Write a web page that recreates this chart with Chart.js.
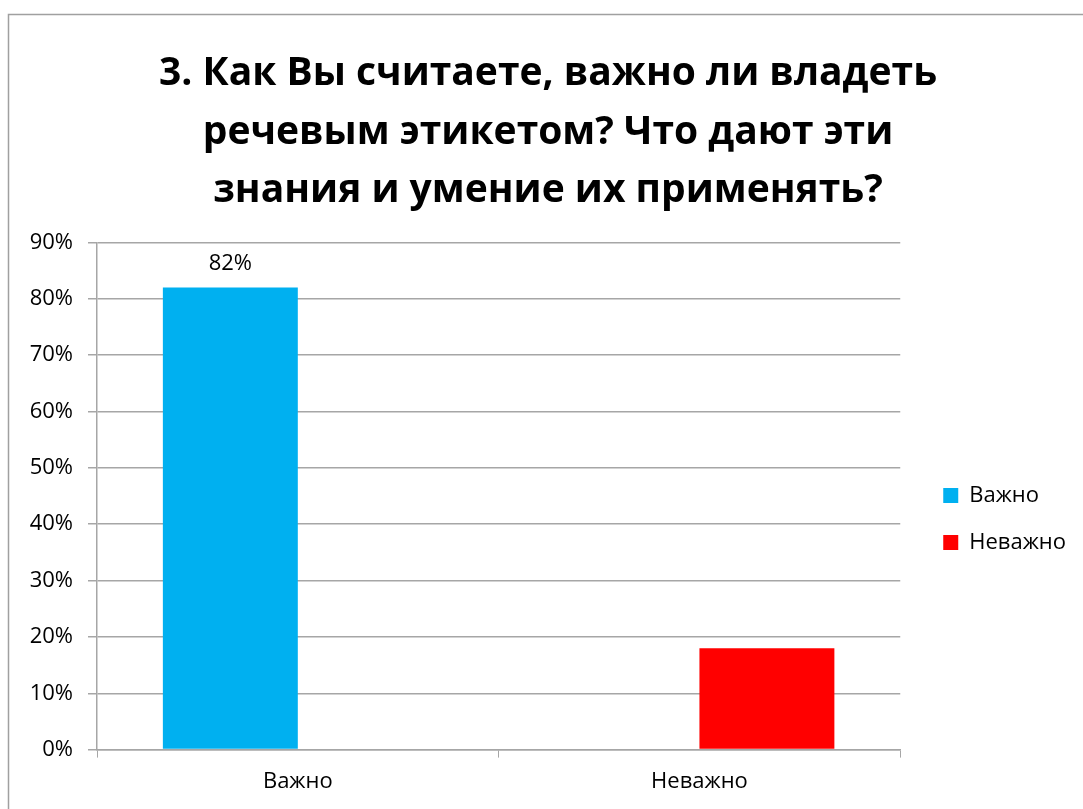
<!DOCTYPE html>
<html>
<head>
<meta charset="utf-8">
<script src="https://cdn.jsdelivr.net/npm/chart.js@4.4.0/dist/chart.umd.min.js"></script>
<style>
  html, body { margin: 0; padding: 0; background: #fff; }
  #wrap { width: 1083px; height: 809px; position: relative; }
</style>
</head>
<body>
<div id="wrap"><canvas id="grafica" width="1083" height="809"></canvas></div>
<script>
// Datos del gráfico
const categorias = ['Важно', 'Неважно'];
const valoresVazhno = [0.82, null];
const valoresNevazhno = [null, 0.18];
const etiquetasDatos = ['82%', null];
const tituloLineas = ['3. Как Вы считаете, важно ли владеть', 'речевым этикетом? Что дают эти', 'знания и умение их применять?'];

const fuente = '"Open Sans", Lato, sans-serif';
const gris = '#a6a6a6';
const tam = 22;

// marco exterior
const marco = {
  id: 'marco',
  beforeDraw(chart) {
    const ctx = chart.ctx;
    ctx.save();
    ctx.fillStyle = '#fff';
    ctx.fillRect(0, 0, chart.width, chart.height);
    ctx.strokeStyle = '#a0a0a0';
    ctx.lineWidth = 1.5;
    ctx.strokeRect(8.5, 14.5, 1100, 900);
    ctx.restore();
  }
};

// etiqueta de datos solo para la primera serie
const etiquetas = {
  id: 'etiquetas',
  afterDatasetsDraw(chart) {
    const ctx = chart.ctx;
    const meta = chart.getDatasetMeta(0);
    ctx.save();
    ctx.font = tam + 'px ' + fuente;
    ctx.fillStyle = '#000';
    ctx.textAlign = 'center';
    ctx.textBaseline = 'middle';
    meta.data.forEach((bar, i) => {
      if (etiquetasDatos[i]) ctx.fillText(etiquetasDatos[i], bar.x, bar.y - 24);
    });
    ctx.restore();
  }
};

new Chart(document.getElementById('grafica'), {
  type: 'bar',
  data: {
    labels: categorias,
    datasets: [
      { label: 'Важно', data: valoresVazhno, backgroundColor: '#00b0f0', barPercentage: 1, categoryPercentage: 0.672 },
      { label: 'Неважно', data: valoresNevazhno, backgroundColor: '#ff0000', barPercentage: 1, categoryPercentage: 0.672 }
    ]
  },
  plugins: [marco, etiquetas],
  options: {
    responsive: false,
    animation: false,
    layout: { padding: { left: 20, right: 7, top: 45, bottom: 3 } },
    plugins: {
      title: {
        display: true,
        text: tituloLineas,
        color: '#000',
        font: { family: fuente, size: 39, weight: 'bold', lineHeight: 1.5 },
        padding: { top: 0, bottom: 22 }
      },
      legend: {
        position: 'right',
        align: 'center',
        // título vacío para bajar la leyenda
        title: { display: true, text: ' ', font: { size: 1 }, padding: { top: 186, bottom: 0 } },
        labels: {
          color: '#000',
          font: { family: fuente, size: tam },
          boxWidth: 15,
          boxHeight: 15,
          padding: 25
        }
      },
      tooltip: { enabled: false }
    },
    scales: {
      x: {
        grid: { drawOnChartArea: false, drawTicks: true, tickLength: 8, color: gris, offset: true },
        border: { color: gris, width: 1.5 },
        ticks: { color: '#000', font: { family: fuente, size: tam }, padding: 11 }
      },
      y: {
        min: 0,
        max: 0.9,
        afterFit(scale) { scale.width = 77; },
        grid: { color: gris, lineWidth: 1.5, tickLength: 9 },
        border: { color: gris, width: 1.5 },
        ticks: {
          stepSize: 0.1,
          color: '#000',
          font: { family: fuente, size: tam },
          padding: 15,
          callback: v => Math.round(v * 100) + '%'
        }
      },
      // eje vacío: solo deja hueco entre el área y la leyenda
      hueco: {
        position: 'right',
        afterFit(scale) { scale.width = 18; },
        grid: { display: false },
        border: { display: false },
        ticks: { display: false }
      }
    }
  }
});
</script>
</body>
</html>
